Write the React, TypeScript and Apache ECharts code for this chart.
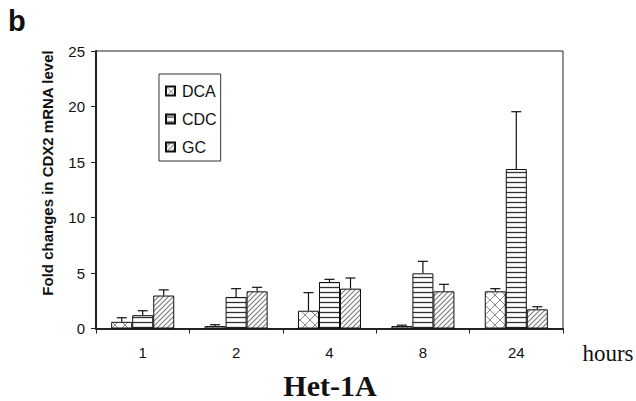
import React, { useEffect, useRef } from "react";
import * as echarts from "echarts";

const categories = ["1", "2", "4", "8", "24"];
const seriesNames = ["DCA", "CDC", "GC"];
const dcaValues = [0.6, 0.22, 1.6, 0.22, 3.35];
const cdcValues = [1.2, 2.84, 4.19, 4.97, 14.37];
const gcValues = [2.97, 3.35, 3.59, 3.35, 1.73];
const dcaErrTop = [0.97, 0.34, 3.23, 0.3, 3.59];
const cdcErrTop = [1.6, 3.59, 4.43, 6.05, 19.53];
const gcErrTop = [3.48, 3.71, 4.55, 3.98, 1.96];
const yTicks = [0, 5, 10, 15, 20, 25];

const GAP = 0.325;

function makePattern(kind: string) {
  const c = document.createElement("canvas");
  let w = 8, h = 8;
  if (kind === "h") { w = 6; h = 5; }
  if (kind === "d") { w = 5; h = 5; }
  if (kind === "x") { w = 10; h = 10; }
  c.width = w; c.height = h;
  const ctx = c.getContext("2d")!;
  ctx.fillStyle = "#ffffff";
  ctx.fillRect(0, 0, w, h);
  if (kind === "h") {
    ctx.strokeStyle = "#333";
    ctx.lineWidth = 1.3;
    ctx.beginPath(); ctx.moveTo(0, 2.5); ctx.lineTo(w, 2.5); ctx.stroke();
  } else if (kind === "d") {
    ctx.strokeStyle = "#7a7a7a";
    ctx.lineWidth = 1.1;
    ctx.beginPath();
    ctx.moveTo(-1, h + 1); ctx.lineTo(w + 1, -1);
    ctx.moveTo(-1, 1); ctx.lineTo(1, -1);
    ctx.moveTo(w - 1, h + 1); ctx.lineTo(w + 1, h - 1);
    ctx.stroke();
  } else {
    ctx.strokeStyle = "#8a8a8a";
    ctx.lineWidth = 1;
    ctx.beginPath();
    ctx.moveTo(0, 0); ctx.lineTo(w, h);
    ctx.moveTo(w, 0); ctx.lineTo(0, h);
    ctx.stroke();
  }
  return { image: c, repeat: "repeat" } as any;
}

export default function App() {
  const ref = useRef<HTMLDivElement>(null);
  useEffect(() => {
    if (!ref.current) return;
    const chart = echarts.init(ref.current, undefined, { renderer: "svg" });
    const values = [dcaValues, cdcValues, gcValues];
    const errs = [dcaErrTop, cdcErrTop, gcErrTop];
    const patterns = [makePattern("x"), makePattern("h"), makePattern("d")];
    const errData: number[][] = [];
    for (let s = 0; s < 3; s++) {
      for (let i = 0; i < categories.length; i++) {
        errData.push([i, s, values[s][i], errs[s][i]]);
      }
    }
    const sans = "'Liberation Sans', Arial, sans-serif";
    const serif = "'Liberation Serif', 'Times New Roman', serif";
    const barSeries = seriesNames.map((name, s) => ({
      name,
      type: "bar",
      data: values[s],
      barGap: "0%",
      barCategoryGap: GAP * 100 + "%",
      itemStyle: { color: patterns[s], borderColor: "#111", borderWidth: 1 },
      z: 2,
    }));
    chart.setOption({
      animation: false,
      backgroundColor: "#ffffff",
      grid: {
        left: 96, right: 73, top: 51, bottom: 72.5,
        show: true, borderColor: "#222", borderWidth: 1, backgroundColor: "transparent",
      },
      legend: {
        data: seriesNames,
        orient: "vertical",
        left: 159, top: 74,
        borderColor: "#333", borderWidth: 1,
        padding: [9, 4, 6, 6],
        itemWidth: 9, itemHeight: 9, itemGap: 12,
        textStyle: { fontFamily: sans, fontSize: 16, color: "#111", padding: [0, 0, 0, 2] },
        icon: "rect",
      },
      xAxis: {
        type: "category",
        data: categories,
        axisLine: { lineStyle: { color: "#222", width: 2 } },
        axisTick: { show: true, length: 5, lineStyle: { color: "#222" } },
        axisLabel: { fontFamily: sans, fontSize: 15, color: "#111", margin: 16 },
      },
      yAxis: {
        type: "value",
        min: 0, max: 25, interval: 5,
        splitLine: { show: false },
        axisLine: { show: true, lineStyle: { color: "#222", width: 2 } },
        axisTick: { show: true, length: 5, lineStyle: { color: "#222" } },
        axisLabel: {
          fontFamily: sans, fontSize: 15, color: "#111", margin: 11,
          formatter: (v: number) => (yTicks.indexOf(v) >= 0 ? String(v) : ""),
        },
      },
      series: [
        ...barSeries,
        {
          type: "custom",
          name: "err",
          data: errData,
          encode: { x: 0, y: [2, 3] },
          z: 5,
          renderItem: (params: any, api: any) => {
            const cat = api.value(0);
            const s = api.value(1);
            const v = api.value(2);
            const e = api.value(3);
            const catW = api.size([1, 0])[0];
            const barW = (catW * (1 - GAP)) / 3;
            const base = api.coord([cat, v]);
            const top = api.coord([cat, e]);
            const x = base[0] + (s - 1) * barW;
            const style = { stroke: "#111", lineWidth: 1.2 };
            return {
              type: "group",
              children: [
                { type: "line", shape: { x1: x, y1: base[1], x2: x, y2: top[1] }, style },
                { type: "line", shape: { x1: x - 5, y1: top[1], x2: x + 5, y2: top[1] }, style },
              ],
            };
          },
        },
      ],
      graphic: [
        { type: "text", left: 8, top: 6, style: { text: "b", font: `bold 29px ${sans}`, fill: "#111" } },
        {
          type: "text", x: 47, y: 173, rotation: Math.PI / 2,
          style: {
            text: "Fold changes in CDX2 mRNA level", font: `bold 15px ${sans}`, fill: "#111",
            textAlign: "center", textVerticalAlign: "middle",
          },
        },
        {
          type: "text", x: 608, y: 353,
          style: { text: "hours", font: `23px ${serif}`, fill: "#111", textAlign: "center", textVerticalAlign: "middle" },
        },
        {
          type: "text", x: 330, y: 385,
          style: { text: "Het-1A", font: `bold 30px ${serif}`, fill: "#111", textAlign: "center", textVerticalAlign: "middle" },
        },
      ],
    });
    return () => chart.dispose();
  }, []);
  return <div ref={ref} style={{ width: 636, height: 401, position: "absolute", left: 0, top: 0 }} />;
}
